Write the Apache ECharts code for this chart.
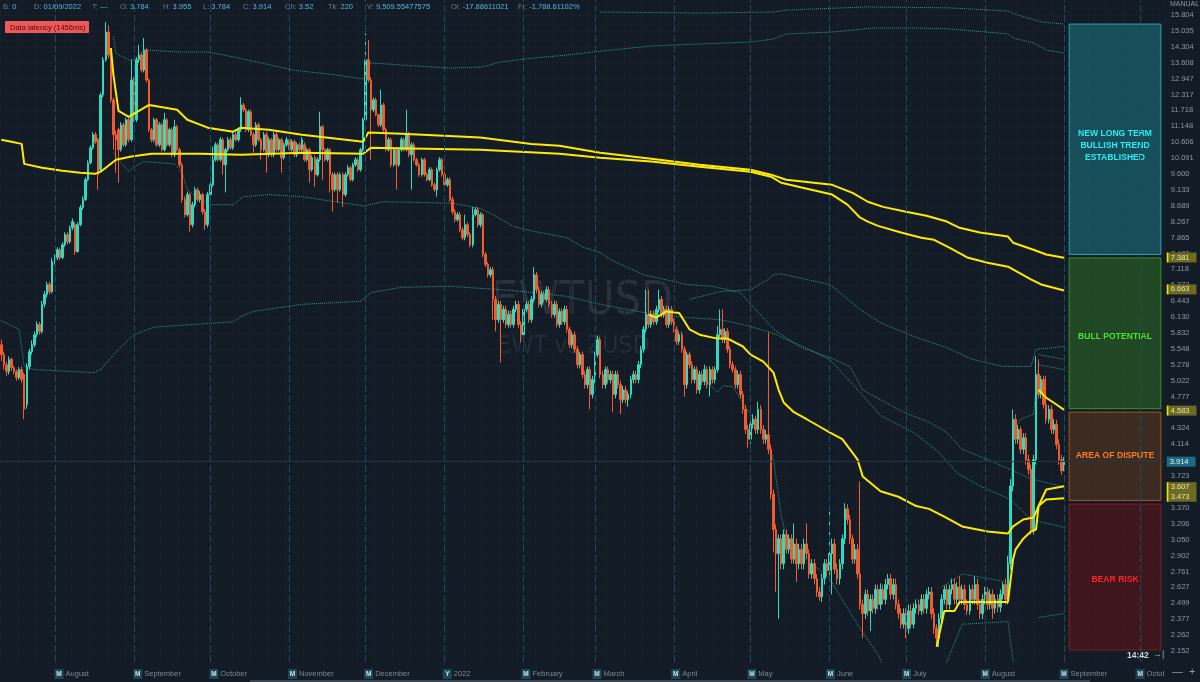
<!DOCTYPE html>
<html>
<head>
<meta charset="utf-8">
<title>EWTUSD</title>
<style>
html,body{margin:0;padding:0;background:#131c26;}
#main{width:1200px;height:682px;}
</style>
</head>
<body>
<div id="main"></div>
<script src="https://cdn.jsdelivr.net/npm/echarts@6/dist/echarts.min.js"></script>
<script>
// daily candles from 2021-07-11, plus empty days to the right of the last one
const startDate = [2021, 6, 11];
const dayCount = 457;

const priceTicks = ['2.152','2.262','2.377','2.499','2.627','2.761','2.902','3.050','3.206','3.370','3.542',
  '3.723','3.914','4.114','4.324','4.545','4.777','5.022','5.278','5.548','5.832','6.130','6.443','6.772',
  '7.118','7.482','7.865','8.267','8.689','9.133','9.600','10.091','10.606','11.148','11.718','12.317',
  '12.947','13.608','14.304','15.035','15.804'];

const monthNames = ['January','February','March','April','May','June','July','August','September','October','November','December'];

// [open, close, low, high]
const candles = [
  [5.62,5.45,5.34,5.71],[5.45,5.28,5.2,5.5],[5.28,5.17,5.1,5.33],[5.17,5.37,5.12,5.42],[5.37,5.23,5.18,5.4],
  [5.23,5.17,5.12,5.26],[5.17,5.07,5.02,5.2],[5.07,5.2,5.04,5.24],[5.2,5.04,4.99,5.25],[5.12,4.59,4.45,5.15],
  [4.66,5.25,4.6,5.3],[5.25,5.5,5.2,5.55],[5.5,5.62,5.45,5.7],[5.62,5.8,5.58,5.86],[5.8,5.99,5.75,6.05],
  [5.99,5.86,5.8,6.04],[5.86,6.38,5.82,6.45],[6.38,6.58,6.32,6.65],[6.58,6.79,6.52,6.85],[6.79,6.64,6.58,6.85],
  [6.64,7.3,6.6,7.38],[7.3,7.39,7.22,7.46],[7.39,7.57,7.33,7.63],[7.57,7.39,7.33,7.62],[7.39,7.69,7.35,7.75],
  [7.69,7.94,7.64,8.0],[7.94,7.76,7.7,8.0],[7.76,8.11,7.72,8.17],[8.11,8.27,8.05,8.35],[8.19,7.53,7.45,8.25],
  [7.53,8.19,7.5,8.25],[8.19,8.64,8.15,8.72],[8.64,8.86,8.58,8.95],[8.86,9.43,8.82,9.5],[9.43,9.94,9.38,10.02],
  [9.94,10.42,9.9,10.5],[10.42,10.86,10.36,10.95],[10.86,10.62,10.55,10.95],[10.69,9.58,9.14,10.75],[9.73,12.3,9.68,12.4],
  [12.3,13.73,12.2,13.85],[13.73,14.98,13.65,15.46],[14.98,13.94,13.8,15.31],[13.94,12.11,12.0,14.1],[12.11,10.86,10.36,12.2],
  [10.86,10.69,9.64,11.0],[11.03,10.36,9.34,11.1],[10.36,11.2,10.3,11.3],[11.2,10.52,10.45,11.28],[10.52,11.38,10.46,11.45],
  [11.38,10.69,10.6,11.45],[10.69,12.89,10.62,13.73],[12.89,11.38,11.3,13.0],[11.38,13.73,11.3,13.85],[13.73,13.94,13.6,14.39],
  [13.94,13.3,13.2,14.05],[13.3,14.16,13.2,14.7],[14.16,12.89,12.8,14.25],[12.89,11.03,10.95,12.95],[11.03,10.69,10.6,11.1],
  [10.69,11.38,10.6,11.45],[11.38,10.52,10.45,11.45],[10.52,11.2,10.45,11.3],[11.2,10.36,10.3,11.28],[10.36,11.38,10.3,11.63],
  [11.38,10.52,10.45,11.45],[10.52,11.03,10.45,11.1],[11.03,10.2,10.12,11.1],[10.2,11.13,10.12,11.38],[11.13,10.36,10.3,11.2],
  [10.36,9.88,9.8,10.42],[9.88,8.86,8.78,9.95],[8.86,8.45,8.38,8.95],[8.45,9.0,8.4,9.08],[9.0,8.19,8.01,9.05],
  [8.19,8.72,8.12,8.8],[8.72,9.14,8.65,9.22],[9.14,8.86,8.8,9.2],[8.86,9.0,8.78,9.1],[9.0,8.53,8.45,9.05],
  [8.53,8.19,8.06,8.6],[8.19,9.0,8.12,9.08],[9.0,9.28,8.94,9.35],[9.28,10.04,9.22,10.46],[10.04,10.52,9.98,10.6],
  [10.52,10.04,9.98,10.58],[10.04,10.69,9.98,10.78],[10.69,9.88,9.58,10.75],[9.88,10.36,9.06,10.42],[10.36,10.69,10.3,10.78],
  [10.69,10.42,10.36,10.78],[10.42,10.86,10.36,10.95],[10.86,10.69,10.62,10.95],[10.69,11.03,10.62,11.1],[11.03,11.92,10.95,12.22],
  [11.92,11.74,11.65,12.0],[11.74,11.03,10.95,11.8],[11.03,11.67,10.95,11.75],[11.67,10.86,10.8,11.74],[10.86,10.52,10.26,10.95],
  [10.52,11.2,10.45,11.3],[11.2,10.69,10.62,11.28],[10.69,10.36,10.04,10.75],[10.36,10.86,10.3,10.95],[10.86,10.2,9.64,10.95],
  [10.2,10.69,10.12,10.78],[10.69,10.2,10.12,10.75],[10.2,10.86,10.12,10.95],[10.86,10.36,10.3,10.95],[10.36,10.69,10.3,10.75],
  [10.69,10.1,9.64,10.75],[10.1,10.52,10.04,10.6],[10.52,10.69,10.45,10.78],[10.69,10.36,10.3,10.75],[10.36,10.62,10.3,10.7],
  [10.62,10.2,10.12,10.7],[10.2,10.52,10.12,10.6],[10.52,10.36,10.3,10.6],[10.36,10.69,10.3,10.78],[10.52,10.04,9.98,10.6],
  [10.04,10.36,9.98,10.42],[10.36,9.73,9.34,10.42],[9.73,10.1,9.67,10.18],[10.1,9.58,9.23,10.18],[9.58,10.04,9.52,10.12],
  [10.04,11.13,9.98,11.67],[11.13,10.36,9.43,11.2],[10.36,10.04,9.98,10.42],[10.04,10.36,9.98,10.42],[10.36,9.58,9.06,10.42],
  [9.58,9.14,8.53,9.65],[9.14,9.58,9.08,9.65],[9.58,9.14,8.77,9.65],[9.14,9.58,9.08,9.65],[9.58,9.0,8.66,9.65],
  [9.0,9.58,8.94,9.65],[9.58,9.79,9.52,9.88],[9.79,9.43,9.38,9.85],[9.43,9.88,9.38,9.95],[9.88,10.04,9.82,10.12],
  [10.04,9.73,9.67,10.1],[9.73,10.36,9.67,10.42],[10.36,11.38,10.3,11.45],[11.38,13.73,11.3,14.93],[13.73,12.89,12.8,14.61],
  [12.89,11.74,10.04,13.0],[11.74,12.11,11.65,12.2],[12.11,11.56,11.5,12.2],[11.56,11.2,11.13,11.6],[11.2,11.92,11.13,12.5],
  [11.92,11.03,10.95,12.0],[11.03,10.36,10.3,11.1],[10.36,10.69,10.3,10.78],[10.69,9.88,9.8,10.75],[9.88,10.36,9.82,10.42],
  [10.36,9.88,9.14,10.42],[9.88,10.36,9.82,10.42],[10.36,10.69,10.3,10.78],[10.69,10.36,10.3,10.75],[10.36,10.86,10.3,11.74],
  [10.86,10.2,10.12,10.95],[10.2,10.52,9.14,10.6],[10.52,10.04,9.98,10.6],[10.04,9.88,9.82,10.1],[9.88,9.58,9.52,9.95],
  [9.58,10.04,9.52,10.1],[10.04,9.58,9.52,10.1],[9.58,9.43,9.38,9.65],[9.43,9.73,9.38,9.8],[9.73,9.28,9.22,9.8],
  [9.28,9.14,9.08,9.35],[9.14,9.73,8.94,9.8],[9.73,10.04,9.67,10.12],[10.04,9.58,9.52,10.1],[9.58,9.28,9.22,9.65],
  [9.28,9.43,9.22,9.5],[9.43,8.86,8.8,9.5],[8.86,8.53,8.45,8.95],[8.53,8.32,8.25,8.6],[8.32,8.45,8.27,8.52],
  [8.45,8.06,8.0,8.52],[8.06,7.86,7.8,8.12],[7.86,8.19,7.8,8.45],[8.19,7.94,7.88,8.25],[7.94,7.69,7.63,8.0],
  [7.69,8.45,7.63,8.66],[8.45,8.58,8.4,8.66],[8.58,8.19,8.12,8.65],[8.19,8.45,8.12,8.52],[8.45,7.46,7.4,8.5],
  [7.46,7.23,7.17,7.52],[7.23,7.0,6.94,7.28],[7.0,7.11,6.94,7.17],[7.11,6.48,6.08,7.17],[6.48,6.08,5.86,6.55],
  [6.08,6.38,6.02,6.45],[6.38,6.08,5.32,6.45],[6.08,6.28,6.02,6.35],[6.28,5.99,5.93,6.35],[5.99,6.18,5.93,6.25],
  [6.18,5.99,5.93,6.25],[5.99,6.28,5.93,6.35],[6.28,6.38,6.22,6.45],[6.38,5.99,5.93,6.45],[5.99,5.8,5.66,6.05],
  [5.8,6.28,5.75,6.35],[6.28,6.38,6.22,6.45],[6.38,6.08,6.02,6.45],[6.08,6.48,6.02,6.55],[6.48,7.0,6.42,7.17],
  [7.0,6.68,6.62,7.06],[6.68,6.38,6.32,6.75],[6.38,6.58,6.32,6.65],[6.58,6.48,6.42,6.65],[6.48,6.68,6.42,6.75],
  [6.68,6.38,6.32,6.75],[6.38,6.18,6.12,6.45],[6.18,6.38,6.12,6.45],[6.38,5.99,5.93,6.45],[5.99,6.24,5.93,6.3],
  [6.24,6.04,5.98,6.3],[6.04,6.28,5.98,6.35],[6.28,5.9,5.84,6.35],[5.9,5.62,5.56,5.95],[5.62,5.8,5.56,5.86],
  [5.8,5.54,5.48,5.86],[5.54,5.28,5.22,5.6],[5.28,5.45,5.22,5.5],[5.45,5.12,5.06,5.5],[5.12,4.96,4.9,5.18],
  [4.96,5.2,4.9,5.25],[5.2,4.81,4.59,5.25],[4.81,5.04,4.75,5.1],[5.04,5.45,4.98,5.5],[5.45,5.71,5.4,5.78],
  [5.71,5.12,5.06,5.76],[5.12,4.96,4.9,5.18],[4.96,5.2,4.9,5.25],[5.2,5.04,4.98,5.25],[5.04,5.12,4.98,5.18],
  [5.12,4.81,4.55,5.18],[4.81,5.12,4.75,5.18],[5.12,4.96,4.9,5.18],[4.96,4.73,4.52,5.02],[4.73,4.88,4.68,4.94],
  [4.88,4.73,4.68,4.94],[4.73,4.81,4.63,4.86],[4.81,5.04,4.75,5.1],[5.04,5.12,4.98,5.18],[5.12,5.04,4.98,5.18],
  [5.04,5.28,4.98,5.34],[5.28,5.54,5.22,5.6],[5.54,5.9,5.48,5.96],[5.9,6.18,5.84,6.68],[6.18,5.99,5.93,6.68],
  [5.99,6.18,5.93,6.25],[6.18,6.04,5.98,6.25],[6.04,6.28,5.98,6.35],[6.28,6.48,6.22,6.68],[6.48,6.18,6.12,6.55],
  [6.18,6.28,6.12,6.35],[6.28,5.99,5.93,6.35],[5.99,6.28,5.93,6.35],[6.28,6.04,5.98,6.35],[6.04,5.9,5.84,6.1],
  [5.9,5.68,5.62,5.96],[5.68,5.8,5.62,5.86],[5.8,5.54,5.48,5.86],[5.54,4.96,4.78,5.6],[4.96,5.45,4.9,5.5],
  [5.45,5.28,5.22,5.5],[5.28,5.04,4.98,5.34],[5.04,5.2,4.98,5.25],[5.2,4.88,4.82,5.25],[4.88,5.12,4.82,5.18],
  [5.12,5.01,4.95,5.18],[5.01,5.2,4.95,5.28],[5.2,4.96,4.9,5.25],[4.96,5.2,4.78,5.25],[5.2,5.04,4.98,5.25],
  [5.04,5.2,4.98,5.25],[5.2,5.8,5.15,5.96],[5.8,5.9,5.75,6.28],[5.9,5.71,5.65,6.28],[5.71,5.86,5.65,5.92],
  [5.86,5.54,5.48,5.92],[5.54,5.28,5.22,5.6],[5.28,5.2,5.15,5.34],[5.2,4.96,4.9,5.25],[4.96,5.12,4.9,5.18],
  [5.12,4.81,4.75,5.18],[4.81,4.59,4.53,4.86],[4.59,4.31,4.25,4.65],[4.31,4.18,4.07,4.37],[4.18,4.38,4.12,4.44],
  [4.38,4.45,4.32,4.52],[4.45,4.31,4.25,4.5],[4.31,4.59,4.25,4.7],[4.59,4.31,4.25,4.65],[4.31,4.18,4.12,4.37],
  [4.18,4.24,4.12,4.3],[4.24,4.05,3.99,5.84],[4.05,3.52,3.46,4.11],[3.52,3.15,2.93,3.57],[3.15,2.92,2.59,3.2],
  [2.92,3.06,2.38,3.1],[3.06,2.83,2.78,3.1],[2.83,3.1,2.78,3.15],[3.1,2.96,2.92,3.15],[2.96,3.06,2.92,3.1],
  [3.06,2.87,2.83,3.1],[2.87,3.01,2.83,3.21],[3.01,2.83,2.67,3.06],[2.83,2.96,2.78,3.01],[2.96,2.83,2.78,3.01],
  [2.83,3.01,2.78,3.06],[3.01,2.92,2.87,3.21],[2.92,2.74,2.7,2.96],[2.74,2.83,2.7,2.87],[2.83,2.7,2.65,2.87],
  [2.7,2.59,2.55,2.74],[2.59,2.55,2.52,2.63],[2.55,2.7,2.51,2.74],[2.7,2.83,2.65,2.87],[2.83,2.77,2.72,2.87],
  [2.77,2.92,2.72,3.39],[2.92,3.01,2.57,3.06],[3.01,2.78,2.74,3.06],[2.78,2.7,2.65,2.83],[2.7,2.83,2.65,2.87],
  [2.83,3.06,2.78,3.1],[3.06,3.36,3.01,3.42],[3.36,3.25,3.2,3.41],[3.25,3.06,3.01,3.3],[3.06,2.87,2.83,3.1],
  [2.87,2.96,2.83,3.01],[2.96,2.74,2.7,3.01],[2.74,2.49,2.45,3.66],[2.49,2.42,2.24,2.53],[2.42,2.57,2.38,2.61],
  [2.57,2.44,2.4,2.61],[2.44,2.53,2.29,2.57],[2.53,2.46,2.42,2.57],[2.46,2.61,2.42,2.65],[2.61,2.49,2.45,2.65],
  [2.49,2.61,2.45,2.66],[2.61,2.53,2.49,2.65],[2.53,2.65,2.49,2.7],[2.65,2.7,2.61,2.74],[2.7,2.57,2.53,2.74],
  [2.57,2.65,2.53,2.7],[2.65,2.49,2.45,2.7],[2.49,2.42,2.38,2.53],[2.42,2.34,2.31,2.46],[2.34,2.42,2.31,2.46],
  [2.42,2.31,2.24,2.46],[2.31,2.44,2.27,2.49],[2.44,2.34,2.31,2.49],[2.34,2.46,2.31,2.5],[2.46,2.49,2.42,2.53],
  [2.49,2.44,2.41,2.53],[2.44,2.53,2.41,2.57],[2.53,2.46,2.42,2.57],[2.46,2.57,2.42,2.61],[2.57,2.59,2.53,2.63],
  [2.59,2.42,2.38,2.63],[2.42,2.31,2.27,2.46],[2.31,2.24,2.19,2.34],[2.24,2.38,2.18,2.42],[2.38,2.53,2.34,2.57],
  [2.53,2.61,2.49,2.64],[2.61,2.49,2.45,2.65],[2.49,2.61,2.45,2.65],[2.61,2.65,2.57,2.7],[2.65,2.53,2.49,2.7],
  [2.53,2.63,2.49,2.67],[2.63,2.53,2.49,2.72],[2.53,2.61,2.49,2.65],[2.61,2.49,2.45,2.65],[2.49,2.44,2.41,2.53],
  [2.44,2.61,2.41,2.65],[2.61,2.53,2.49,2.65],[2.53,2.65,2.49,2.72],[2.65,2.49,2.45,2.7],[2.49,2.42,2.38,2.53],
  [2.42,2.53,2.38,2.57],[2.53,2.59,2.49,2.63],[2.59,2.49,2.45,2.63],[2.49,2.57,2.45,2.61],[2.57,2.46,2.38,2.61],
  [2.46,2.53,2.42,2.57],[2.53,2.47,2.43,2.57],[2.47,2.57,2.43,2.61],[2.57,2.65,2.53,2.67],[2.65,2.53,2.49,2.7],
  [2.53,2.83,2.49,2.9],[2.83,3.61,2.78,3.69],[3.61,4.45,3.55,4.59],[4.45,4.18,4.12,4.52],[4.18,4.31,4.12,4.37],
  [4.31,4.05,3.99,4.35],[4.05,4.2,3.99,4.26],[4.2,3.92,3.86,4.26],[3.92,3.8,3.74,3.98],[3.8,3.15,3.1,3.86],
  [3.15,3.92,3.1,3.98],[3.92,5.12,3.86,5.42],[5.12,4.81,4.75,5.37],[4.81,5.04,4.75,5.1],[5.04,4.66,4.6,5.1],
  [4.66,4.45,4.39,5.1],[4.45,4.59,4.39,4.65],[4.59,4.31,4.25,4.65],[4.31,4.38,4.25,4.45],[4.38,4.11,4.05,4.44],
  [4.11,3.92,3.86,4.18],[3.92,3.784,3.74,3.98],[3.784,3.914,3.784,3.955]
];

// anchored VWAP lines (yellow), [date, price]
const vwapLong1 = [['2021-07-11',10.69],['2021-07-15',10.62],['2021-07-19',10.55],['2021-07-20',9.91],['2021-07-27',9.79],
  ['2021-08-04',9.70],['2021-08-11',9.64],['2021-08-17',9.61],['2021-08-19',9.67],['2021-08-25',10.04],['2021-08-31',10.14],
  ['2021-09-08',10.23],['2021-09-27',10.23],['2021-10-13',10.20],['2021-11-06',10.26],['2021-11-30',10.23],['2021-12-03',10.42],
  ['2022-01-15',10.36],['2022-02-15',10.23],['2022-03-03',10.10],['2022-03-23',9.98],['2022-04-11',9.82],['2022-05-01',9.67],
  ['2022-05-09',9.52],['2022-05-13',9.34],['2022-05-21',9.20],['2022-06-02',9.00],['2022-06-08',8.72],['2022-06-13',8.37],
  ['2022-06-16',8.27],['2022-06-20',8.16],['2022-06-29',7.99],['2022-07-07',7.86],['2022-07-12',7.81],['2022-07-18',7.62],
  ['2022-07-25',7.39],['2022-08-02',7.27],['2022-08-10',7.18],['2022-08-19',6.90],['2022-08-23',6.79],['2022-09-01',6.663]];
const vwapLong2 = [['2021-08-23',14.25],['2021-08-24',13.10],['2021-08-26',11.70],['2021-08-30',11.48],['2021-09-07',11.92],
  ['2021-09-18',11.74],['2021-09-22',11.38],['2021-09-30',11.10],['2021-10-10',10.96],['2021-10-13',11.10],['2021-10-24',11.03],
  ['2021-11-06',10.86],['2021-11-30',10.62],['2021-12-02',10.93],['2021-12-15',10.89],['2022-01-15',10.76],['2022-02-04',10.55],
  ['2022-02-15',10.49],['2022-03-03',10.26],['2022-03-23',10.07],['2022-04-11',9.88],['2022-05-01',9.73],['2022-05-09',9.58],
  ['2022-05-15',9.43],['2022-06-02',9.28],['2022-06-10',9.05],['2022-06-16',8.80],['2022-06-22',8.66],['2022-07-01',8.53],
  ['2022-07-09',8.42],['2022-07-17',8.27],['2022-07-22',8.11],['2022-07-30',7.99],['2022-08-10',7.89],['2022-08-12',7.74],
  ['2022-08-20',7.57],['2022-08-25',7.46],['2022-09-01',7.381]];
const vwapMarch = [['2022-03-22',6.18],['2022-03-25',6.12],['2022-03-29',6.24],['2022-04-03',6.21],['2022-04-07',5.90],
  ['2022-04-11',5.80],['2022-04-18',5.73],['2022-04-22',5.73],['2022-04-28',5.59],['2022-05-01',5.45],['2022-05-06',5.33],
  ['2022-05-10',5.15],['2022-05-12',4.88],['2022-05-14',4.69],['2022-05-18',4.55],['2022-05-23',4.45],['2022-05-28',4.35],
  ['2022-06-01',4.27],['2022-06-06',4.18],['2022-06-12',3.92],['2022-06-14',3.72],['2022-06-21',3.55],['2022-06-28',3.49],
  ['2022-07-05',3.39],['2022-07-10',3.36],['2022-07-16',3.28],['2022-07-23',3.18],['2022-08-02',3.13],['2022-08-10',3.11],
  ['2022-08-12',3.18],['2022-08-16',3.25],['2022-08-20',3.27],['2022-08-22',3.39],['2022-08-25',3.57],['2022-09-01',3.607]];
const vwapJuly = [['2022-07-13',2.18],['2022-07-16',2.44],['2022-07-20',2.44],['2022-07-22',2.51],['2022-07-29',2.51],
  ['2022-08-10',2.51],['2022-08-12',2.87],['2022-08-13',2.96],['2022-08-16',3.06],['2022-08-19',3.13],['2022-08-21',3.15],
  ['2022-08-22',3.39],['2022-08-25',3.46],['2022-09-01',3.473]];
const vwapAugust = [['2022-08-22',4.88],['2022-08-25',4.76],['2022-08-29',4.66],['2022-09-01',4.583]];

// standard deviation bands (dotted teal), [date, price]
const bandTop = [['2022-03-03',15.95],['2022-04-11',15.90],['2022-05-10',15.95],['2022-05-15',16.05],['2022-06-16',16.21],
  ['2022-07-18',16.16],['2022-08-10',16.00],['2022-08-14',15.80],['2022-08-23',15.46],['2022-09-01',15.36]];
const bandUpper = [['2021-08-24',14.75],['2021-08-25',14.02],['2021-08-30',13.73],['2021-09-01',13.73],['2021-09-05',14.16],
  ['2021-09-20',14.07],['2021-09-30',14.07],['2021-10-10',13.86],['2021-10-21',13.60],['2021-11-02',13.30],['2021-11-19',13.10],
  ['2021-11-30',12.93],['2021-12-03',13.60],['2021-12-15',13.51],['2022-01-03',13.38],['2022-01-16',13.43],['2022-01-23',13.64],
  ['2022-02-05',13.81],['2022-02-18',13.94],['2022-03-03',14.11],['2022-03-23',14.34],['2022-04-11',14.43],['2022-05-01',14.52],
  ['2022-05-10',14.66],['2022-05-15',14.89],['2022-06-02',14.98],['2022-06-18',15.17],['2022-07-05',15.17],['2022-07-18',15.13],
  ['2022-08-10',14.89],['2022-08-12',14.70],['2022-08-20',14.48],['2022-08-25',14.16],['2022-09-01',14.02]];
const bandLower2 = [['2021-08-24',10.26],['2021-08-26',10.04],['2021-08-30',9.67],['2021-09-01',9.82],['2021-09-05',9.98],
  ['2021-09-17',9.91],['2021-09-20',9.64],['2021-09-22',9.14],['2021-09-27',8.86],['2021-10-01',8.72],['2021-10-10',8.72],
  ['2021-10-14',8.94],['2021-10-24',9.00],['2021-11-06',8.94],['2021-11-19',8.80],['2021-11-30',8.69],['2021-12-08',8.80],
  ['2021-12-28',8.77],['2022-01-05',8.75],['2022-01-15',8.61],['2022-01-20',8.45],['2022-01-28',8.14],['2022-02-05',8.02],
  ['2022-02-18',7.86],['2022-02-24',7.64],['2022-03-03',7.50],['2022-03-07',7.34],['2022-03-20',7.00],['2022-04-06',6.79],
  ['2022-04-16',6.75],['2022-04-27',6.62],['2022-05-10',5.90],['2022-05-20',5.59],['2022-06-01',5.40],['2022-06-09',5.25],
  ['2022-06-14',4.88],['2022-06-21',4.73],['2022-06-30',4.55],['2022-07-10',4.41],['2022-07-17',4.27],['2022-07-23',4.05],
  ['2022-08-02',3.92],['2022-08-11',3.80],['2022-08-19',3.69],['2022-09-01',3.60]];
const bandLower1 = [['2021-07-11',6.06],['2021-07-18',5.90],['2021-07-20',5.25],['2021-07-24',5.20],['2021-08-16',5.15],
  ['2021-08-19',5.20],['2021-08-26',5.54],['2021-09-01',5.80],['2021-09-09',5.94],['2021-10-10',6.04],['2021-10-13',6.14],
  ['2021-10-18',6.24],['2021-11-06',6.38],['2021-11-29',6.44],['2021-12-03',6.62],['2021-12-15',6.73],['2022-01-03',6.75],
  ['2022-01-23',6.68],['2022-02-05',6.62],['2022-02-18',6.54],['2022-03-03',6.38],['2022-03-20',6.22],['2022-04-06',6.12],
  ['2022-04-19',6.08],['2022-04-28',5.99],['2022-05-09',5.84],['2022-05-20',5.62],['2022-06-01',5.37],['2022-06-13',4.84],
  ['2022-06-21',4.50],['2022-07-04',4.27],['2022-07-14',4.01],['2022-07-21',3.76],['2022-07-30',3.61],['2022-08-11',3.46],
  ['2022-08-19',3.25],['2022-09-01',3.17]];
const bandMarchUp = [['2022-04-07',6.48],['2022-04-19',6.64],['2022-05-01',6.68],['2022-05-08',6.90],['2022-05-10',7.00],
  ['2022-05-13',7.02],['2022-06-01',6.79],['2022-06-13',6.28],['2022-06-21',6.02],['2022-07-04',5.77],['2022-07-17',5.57],
  ['2022-07-27',5.37],['2022-08-08',5.25],['2022-08-19',5.25],['2022-08-21',5.54],['2022-09-01',5.59]];
const bandMarchLow = [['2022-04-07',5.28],['2022-04-18',4.84],['2022-04-20',4.94],['2022-04-24',4.93],['2022-04-28',4.69],
  ['2022-05-04',4.35],['2022-05-08',4.14],['2022-05-10',3.92],['2022-05-13',3.29],['2022-05-15',3.08],['2022-05-23',2.87],
  ['2022-06-01',2.70],['2022-06-09',2.43],['2022-06-14',2.28],['2022-06-20',2.13],['2022-06-25',1.95]];
const bandJulyUp = [['2022-07-15',2.63],['2022-07-23',2.74],['2022-08-10',2.67],['2022-08-12',4.27],['2022-08-15',4.45],
  ['2022-08-20',4.52],['2022-08-22',5.28],['2022-09-01',5.20]];
const bandJulyLow = [['2022-07-15',2.00],['2022-07-23',2.34],['2022-08-10',2.36],['2022-08-12',2.08]];
const bandAugUp = [['2022-08-22',5.45],['2022-09-01',5.37]];
const bandAugLow = [['2022-08-22',2.39],['2022-09-01',2.42]];

const lastClose = 3.914;

const zones = [
  {name: 'NEW LONG TERM\nBULLISH TREND\nESTABLISHED', from: '2022-09-03', to: '2022-10-09', top: 15.36, bottom: 7.46},
  {name: 'BULL POTENTIAL', from: '2022-09-03', to: '2022-10-09', top: 7.38, bottom: 4.60},
  {name: 'AREA OF DISPUTE', from: '2022-09-03', to: '2022-10-09', top: 4.55, bottom: 3.45},
  {name: 'BEAR RISK', from: '2022-09-03', to: '2022-10-09', top: 3.41, bottom: 2.16}
];
const zoneStyles = [
  {fill: 'rgba(28,120,132,0.55)', border: '#2aa3ad', text: '#27eef5', offset: [0, 6]},
  {fill: 'rgba(44,110,34,0.55)', border: '#3b8f2c', text: '#4ee12b', offset: [0, 3]},
  {fill: 'rgba(110,62,28,0.45)', border: '#a35421', text: '#ff7b1e', offset: [0, -1]},
  {fill: 'rgba(100,18,24,0.55)', border: '#7f1d22', text: '#ff2323', offset: [0, 3]}
];

const headerItems = [['B:', '0', 3], ['D:', '01/09/2022', 34], ['T:', '---', 92], ['O:', '3.784', 120], ['H:', '3.955', 163],
  ['L:', '3.784', 203], ['C:', '3.914', 243], ['Ch:', '3.52', 285], ['Tk:', '220', 328], ['V:', '9,509.55477575', 367],
  ['Oi:', '-17.88611021', 451], ['Fr:', '-1,788.61102%', 518]];

// ---------------------------------------------------------------
const ln = Math.log;
const days = [];
for (let i = 0; i < dayCount; i++) {
  days.push(new Date(Date.UTC(startDate[0], startDate[1], startDate[2] + i)).toISOString().slice(0, 10));
}
const monthStarts = days.filter(d => d.endsWith('-01'));
const toLog = arr => arr.map(p => [p[0], ln(p[1])]);

const FONT = 'Liberation Sans';
const NARROW = '"Liberation Sans Narrow", "DejaVu Sans Condensed", sans-serif';
const dx = 1166 / dayCount;

function tickLabel(v) {
  let best = priceTicks[0];
  for (const t of priceTicks) {
    if (Math.abs(ln(+t) - v) < Math.abs(ln(+best) - v)) best = t;
  }
  return best;
}

const yellowRich = {
  bar: {width: 2, height: 10, backgroundColor: '#f3e400'},
  v: {backgroundColor: '#6d6b22', color: '#e6e3b0', fontSize: 7.5, fontFamily: FONT, height: 10, lineHeight: 10, padding: [0, 7, 0, 2]}
};
function tag(value) {
  return {
    silent: true, symbol: 'none', animation: false,
    lineStyle: {color: 'rgba(0,0,0,0)', width: 1, type: 'solid'},
    label: {show: true, position: 'end', distance: 2, formatter: '{bar| }{v|' + value + '}', rich: yellowRich},
    data: [{yAxis: ln(+value)}]
  };
}

function band(data) {
  return {
    type: 'line', data: toLog(data), symbol: 'none', silent: true, z: 1,
    lineStyle: {color: '#2b968b', width: 1, type: [1, 1]}
  };
}
function vwap(data) {
  const last = data[data.length - 1][1].toFixed(3);
  return {
    type: 'line', data: toLog(data), symbol: 'none', silent: true, z: 4,
    lineStyle: {color: '#ffea00', width: 2},
    markLine: tag(last)
  };
}

const bands = [bandTop, bandUpper, bandLower2, bandLower1, bandMarchUp, bandMarchLow, bandJulyUp, bandJulyLow, bandAugUp, bandAugLow].map(band);
bands[0].markLine = {
  silent: true, symbol: 'none', animation: false,
  data: monthStarts.map(d => ({xAxis: d, lineStyle: {color: '#1a4b5c', width: 1, type: [7, 3]}, label: {show: false}}))
    .concat([{yAxis: ln(lastClose), lineStyle: {color: '#1f3446', width: 1, type: 'solid'},
      label: {show: true, position: 'end', distance: 2, formatter: lastClose.toFixed(3), backgroundColor: '#1d6a84',
        color: '#e4f5fa', fontSize: 7.5, fontFamily: FONT, padding: [1, 7, 1, 3]}}])
};

const option = {
  backgroundColor: '#131c26',
  animation: false,
  grid: [
    {left: -dx / 2, top: 0, width: 1166, height: 662},
    {left: -dx / 2 - 5, top: 0, width: 1166, height: 662}
  ],
  xAxis: [
    {
      type: 'category', data: days, gridIndex: 0, boundaryGap: true,
      axisLine: {show: false}, axisTick: {show: false}, axisLabel: {show: false},
      splitLine: {show: true, interval: i => new Date(days[i] + 'T00:00:00Z').getUTCDay() === 0,
        lineStyle: {color: '#172029', width: 1}}
    },
    {
      type: 'category', data: days, gridIndex: 1, boundaryGap: true,
      axisLine: {show: false}, axisTick: {show: false}, splitLine: {show: false},
      axisLabel: {
        show: true, margin: 7, align: 'left', hideOverlap: false,
        interval: (i, v) => v.endsWith('-01'),
        formatter: v => {
          const d = new Date(v + 'T00:00:00Z');
          const m = d.getUTCMonth();
          return m === 0 ? '{b|Y}{t|' + d.getUTCFullYear() + '}' : '{b|M}{t|' + monthNames[m] + '}';
        },
        rich: {
          b: {backgroundColor: '#1c4759', color: '#d6e2e8', fontSize: 6.5, fontWeight: 'bold', fontFamily: FONT,
            width: 9, height: 10, lineHeight: 10, align: 'center'},
          t: {color: '#7c8893', fontSize: 7.5, fontFamily: FONT, padding: [0, 0, 0, 2]}
        }
      }
    }
  ],
  yAxis: [
    {
      type: 'value', position: 'right', gridIndex: 0,
      min: ln(2.079), max: ln(16.564),
      axisLine: {show: false},
      axisTick: {show: false, customValues: priceTicks.map(t => ln(+t))},
      axisLabel: {show: true, margin: 6, color: '#8c97a3', fontSize: 7.5, fontFamily: FONT,
        customValues: priceTicks.map(t => ln(+t)), formatter: tickLabel},
      splitLine: {show: true, lineStyle: {color: '#172029', width: 1}}
    },
    {type: 'value', gridIndex: 1, show: false}
  ],
  graphic: [
    {type: 'text', left: 492, top: 279, z: 0, silent: true,
      style: {text: 'EWTUSD', fill: '#29323c', font: '46px ' + NARROW}},
    {type: 'text', left: 497, top: 334, z: 0, silent: true,
      style: {text: 'EWT vs ZUSD', fill: '#252e38', font: '25px ' + NARROW}},
    {type: 'rect', left: 5, top: 21, z: 50, shape: {width: 84, height: 12, r: 1}, style: {fill: '#ef5858'}},
    {type: 'text', left: 10, top: 23.5, z: 51, style: {text: 'Data latency (1456ms)', fill: '#4a0b0b', font: '7.5px ' + FONT}},
    {type: 'text', left: 1170, top: 1, z: 50, style: {text: 'MANUAL', fill: '#8c97a3', font: '7px ' + FONT}},
    {type: 'text', left: 1127, top: 651, z: 50, style: {text: '14:42', fill: '#cfd6dd', font: 'bold 8.5px ' + FONT}},
    {type: 'text', left: 1153, top: 650, z: 50, style: {text: '\u2192|', fill: '#9aa4ae', font: '9px ' + FONT}},
    {type: 'rect', left: 1164, top: 664, z: 50, shape: {width: 36, height: 18}, style: {fill: '#131c26'}},
    {type: 'text', left: 1172, top: 666, z: 51, style: {text: '\u2014  +', fill: '#8c97a3', font: '11px ' + FONT}},
    {type: 'rect', left: 250, top: 680, z: 50, shape: {width: 840, height: 2}, style: {fill: '#3a4451'}}
  ].concat(headerItems.map(h => ({
    type: 'text', left: h[2], top: 3, z: 50, silent: true,
    style: {
      text: '{l|' + h[0] + '} {v|' + h[1] + '}', font: '7.5px ' + FONT,
      rich: {l: {fill: '#6e7a86', font: '7.5px ' + FONT}, v: {fill: '#52b6de', font: '7.5px ' + FONT}}
    }
  }))),
  series: bands.concat([
    {
      type: 'candlestick', data: candles.map(c => c.map(ln)), z: 3, silent: true,
      barWidth: 2,
      itemStyle: {color: '#31d9bf', color0: '#f05c2c', borderColor: '#31d9bf', borderColor0: '#f05c2c', borderWidth: 1},
      markArea: {
        silent: true,
        data: zones.map((z, k) => [
          {xAxis: z.from, yAxis: ln(z.top),
            itemStyle: {color: zoneStyles[k].fill, borderColor: zoneStyles[k].border, borderWidth: 1},
            label: {show: true, position: 'inside', formatter: z.name, color: zoneStyles[k].text, offset: zoneStyles[k].offset,
              fontSize: 8.6, fontWeight: 'bold', fontFamily: FONT, lineHeight: 12, align: 'center'}},
          {xAxis: z.to, yAxis: ln(z.bottom)}
        ])
      }
    },
    vwap(vwapLong1), vwap(vwapLong2), vwap(vwapMarch), vwap(vwapJuly), vwap(vwapAugust)
  ])
};

const chart = echarts.init(document.getElementById('main'));
chart.setOption(option);
</script>
</body>
</html>
